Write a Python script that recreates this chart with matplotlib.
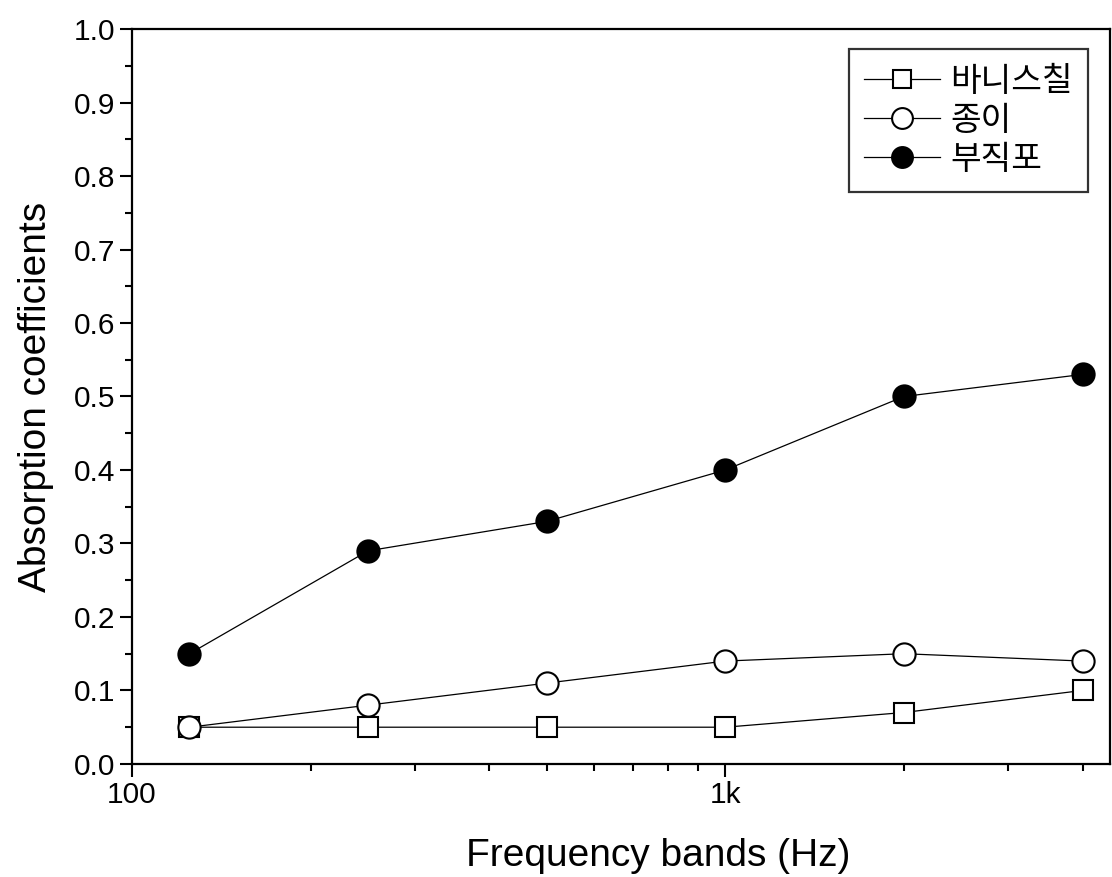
import matplotlib
matplotlib.use("Agg")
import matplotlib.pyplot as plt
from matplotlib.ticker import FixedLocator, NullFormatter, MultipleLocator, FormatStrFormatter

plt.rcParams['font.family'] = ['Liberation Sans', 'Noto Sans CJK KR', 'DejaVu Sans']

freqs = [125, 250, 500, 1000, 2000, 4000]
varnish = [0.05, 0.05, 0.05, 0.05, 0.07, 0.10]
paper = [0.05, 0.08, 0.11, 0.14, 0.15, 0.14]
nonwoven = [0.15, 0.29, 0.33, 0.40, 0.50, 0.53]
series_names = ['바니스칠', '종이', '부직포']

x_major = [100, 1000]
x_major_labels = ['100', '1k']
x_minor = [200, 300, 400, 500, 600, 700, 800, 900, 2000, 3000, 4000]

fig = plt.figure(figsize=(11.12, 8.77), dpi=100)
ax = fig.add_axes([0.1187, 0.1289, 0.8795, 0.838])

lw = 0.9
ax.plot(freqs, varnish, '-', color='black', lw=lw, marker='s', ms=15,
        mfc='white', mec='black', mew=1.5, label=series_names[0], zorder=3)
ax.plot(freqs, paper, '-', color='black', lw=lw, marker='o', ms=16,
        mfc='white', mec='black', mew=1.5, label=series_names[1], zorder=4)
ax.plot(freqs, nonwoven, '-', color='black', lw=lw, marker='o', ms=16,
        mfc='black', mec='black', mew=1.5, label=series_names[2], zorder=5)

ax.set_xscale('log')
ax.set_xlim(100, 4450)
ax.set_ylim(0, 1.0)

ax.xaxis.set_major_locator(FixedLocator(x_major))
ax.set_xticklabels(x_major_labels)
ax.xaxis.set_minor_locator(FixedLocator(x_minor))
ax.xaxis.set_minor_formatter(NullFormatter())
ax.yaxis.set_major_locator(MultipleLocator(0.1))
ax.yaxis.set_minor_locator(MultipleLocator(0.05))
ax.yaxis.set_major_formatter(FormatStrFormatter('%.1f'))

ax.tick_params(which='major', direction='out', length=9, width=1.5,
               labelsize=21.5, pad=3)
ax.tick_params(which='minor', direction='out', length=5, width=1.5)
for s in ax.spines.values():
    s.set_linewidth(1.6)

ax.set_xlabel('Frequency bands (Hz)', fontsize=28)
ax.xaxis.set_label_coords(0.538, -0.101)
ax.set_ylabel('Absorption coefficients', fontsize=28, labelpad=14)

leg = ax.legend(loc='upper right', bbox_to_anchor=(0.9775, 0.973),
                prop={'family': ['Noto Sans CJK KR'], 'size': 24},
                frameon=True, fancybox=False, edgecolor='black',
                handlelength=2.3, handletextpad=0.3, labelspacing=0.12,
                borderpad=0.45, borderaxespad=0.0)
leg.get_frame().set_linewidth(1.6)
for h, ms in zip(leg.legend_handles, [12.5, 15, 15]):
    h.set_markersize(ms)

fig.savefig('out.png', dpi=100)
